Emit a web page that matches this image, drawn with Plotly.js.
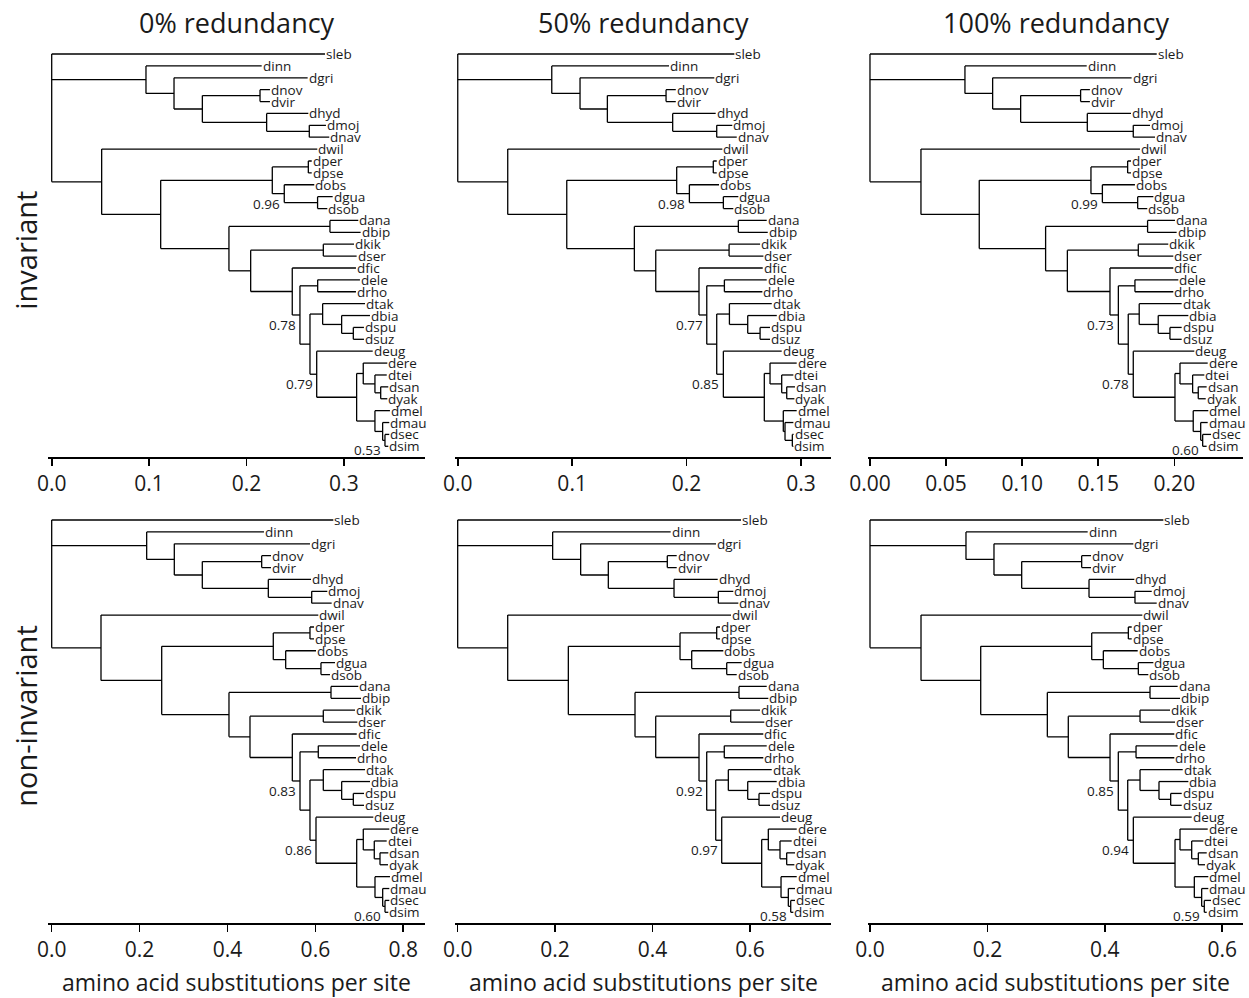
<!DOCTYPE html>
<html>
<head>
<meta charset="utf-8">
<script src="https://cdn.plot.ly/plotly-3.0.1.min.js"></script>
<style>html,body{margin:0;padding:0;background:#fff}</style>
</head>
<body>
<div id="chart" style="width:1249px;height:998px"></div>
<script>
// ---------- DATA ----------
const columnTitles = ["0% redundancy", "50% redundancy", "100% redundancy"];
const rowTitles = ["invariant", "non-invariant"];
const xAxisTitle = "amino acid substitutions per site";

const leaves = ["sleb","dinn","dgri","dnov","dvir","dhyd","dmoj","dnav","dwil","dper","dpse","dobs","dgua","dsob",
  "dana","dbip","dkik","dser","dfic","dele","drho","dtak","dbia","dspu","dsuz","deug","dere","dtei","dsan","dyak",
  "dmel","dmau","dsec","dsim"];

// topology (internal clades named)
const newick = "(sleb,(dinn,(dgri,((dnov,dvir)NV,(dhyd,(dmoj,dnav)MN)HMN)A3)A2)A,(dwil,(((dper,dpse)PP,(dobs,(dgua,dsob)GS)OBS)B3,((dana,dbip)AB,((dkik,dser)KS,(dfic,((dele,drho)ER,((dtak,(dbia,(dspu,dsuz)SS)BSS)B9,(deug,((dere,(dtei,(dsan,dyak)SY)TSY)B12,(dmel,(dmau,(dsec,dsim)SS2)MSS)B13)B11)B10)B8)B7)B6)B5)B4)B2)B)root";

const nodeNames = ["root","A","A2","A3","NV","HMN","MN","B","B2","B3","PP","OBS","GS","B4","AB","B5","KS","B6","B7","ER",
  "B8","B9","BSS","SS","B10","B11","B12","TSY","SY","B13","MSS","SS2"];

// depth (substitutions per site from root) of internal nodes, per panel
const nodeX_inv0 = [0,0.0968,0.1256,0.1547,0.2139,0.2207,0.2645,0.0513,0.1119,0.2265,0.2635,0.2388,0.2730,0.1820,0.2857,0.2043,0.2789,0.2470,0.2549,0.2731,
  0.2652,0.2782,0.2977,0.3097,0.2721,0.3131,0.3199,0.3319,0.3378,0.3319,0.3398,0.3422];
const nodeX_inv50 = [0,0.0822,0.1069,0.1308,0.1821,0.1879,0.2264,0.0437,0.0953,0.1914,0.2234,0.2025,0.2322,0.1544,0.2453,0.1731,0.2372,0.2109,0.2177,0.2331,
  0.2264,0.2375,0.2535,0.2643,0.2322,0.2680,0.2730,0.2832,0.2876,0.2846,0.2861,0.2925];
const nodeX_inv100 = [0,0.0624,0.0806,0.0990,0.1384,0.1428,0.1730,0.0335,0.0718,0.1452,0.1693,0.1527,0.1759,0.1154,0.1824,0.1297,0.1763,0.1577,0.1632,0.1741,
  0.1697,0.1769,0.1894,0.1971,0.1730,0.2004,0.2037,0.2120,0.2157,0.2124,0.2173,0.2186];
const nodeX_non0 = [0,0.2161,0.2790,0.3427,0.4778,0.4929,0.5916,0.1122,0.2503,0.5042,0.5877,0.5324,0.6127,0.4034,0.6355,0.4512,0.6180,0.5475,0.5650,0.6066,
  0.5877,0.6180,0.6598,0.6863,0.6014,0.6940,0.7090,0.7340,0.7470,0.7356,0.7531,0.7584];
const nodeX_non50 = [0,0.1950,0.2525,0.3093,0.4304,0.4442,0.5352,0.1027,0.2272,0.4565,0.5318,0.4805,0.5524,0.3641,0.5776,0.4066,0.5606,0.4955,0.5113,0.5474,
  0.5298,0.5557,0.5955,0.6187,0.5421,0.6242,0.6378,0.6618,0.6755,0.6639,0.6789,0.6838];
const nodeX_non100 = [0,0.1635,0.2112,0.2584,0.3606,0.3731,0.4514,0.0869,0.1886,0.3777,0.4401,0.3975,0.4571,0.3021,0.4770,0.3378,0.4600,0.4089,0.4230,0.4532,
  0.4390,0.4600,0.4923,0.5122,0.4486,0.5196,0.5281,0.5480,0.5593,0.5525,0.5650,0.5695];

// depth of leaves, per panel (same order as `leaves`)
const leafX_inv0 = [0.2806,0.2156,0.2628,0.2241,0.2241,0.2635,0.2816,0.2850,0.2727,0.2670,0.2670,0.2696,0.2885,0.2830,
  0.3148,0.3172,0.3104,0.3131,0.3124,0.3165,0.3124,0.3217,0.3268,0.3206,0.3206,0.3296,0.3446,0.3440,0.3456,0.3446,
  0.3473,0.3466,0.3466,0.3456];
const leafX_inv50 = [0.2418,0.1847,0.2243,0.1906,0.1906,0.2255,0.2400,0.2439,0.2313,0.2264,0.2264,0.2284,0.2453,0.2409,
  0.2701,0.2710,0.2643,0.2672,0.2666,0.2701,0.2663,0.2745,0.2789,0.2730,0.2730,0.2832,0.2963,0.2934,0.2948,0.2943,
  0.2963,0.2934,0.2936,0.2934];
const leafX_inv100 = [0.1884,0.1424,0.1719,0.1445,0.1445,0.1715,0.1840,0.1873,0.1774,0.1715,0.1715,0.1741,0.1862,0.1822,
  0.2004,0.2015,0.1960,0.1993,0.1993,0.2026,0.1993,0.2048,0.2092,0.2048,0.2048,0.2131,0.2219,0.2197,0.2212,0.2206,
  0.2223,0.2219,0.2241,0.2212];
const leafX_non0 = [0.6408,0.4830,0.5877,0.4990,0.4990,0.5900,0.6271,0.6370,0.6066,0.5968,0.5968,0.6014,0.6446,0.6332,
  0.6976,0.7038,0.6901,0.6954,0.6940,0.7015,0.6924,0.7129,0.7243,0.7106,0.7106,0.7318,0.7682,0.7622,0.7659,0.7652,
  0.7697,0.7682,0.7682,0.7659];
const leafX_non50 = [0.5817,0.4373,0.5304,0.4497,0.4497,0.5339,0.5659,0.5762,0.5612,0.5386,0.5386,0.5454,0.5832,0.5729,
  0.6345,0.6378,0.6207,0.6296,0.6275,0.6345,0.6275,0.6448,0.6550,0.6413,0.6413,0.6618,0.6961,0.6858,0.6926,0.6913,
  0.6961,0.6926,0.6926,0.6892];
const leafX_non100 = [0.4997,0.3708,0.4486,0.3765,0.3765,0.4503,0.4799,0.4884,0.4639,0.4458,0.4458,0.4560,0.4827,0.4741,
  0.5241,0.5281,0.5111,0.5196,0.5184,0.5241,0.5184,0.5327,0.5423,0.5310,0.5310,0.5480,0.5753,0.5678,0.5736,0.5707,
  0.5763,0.5763,0.5809,0.5736];

// branch support labels: clade names and values per panel
const support_inv0_nodes = ["OBS","B7","B10","SS2"];   const support_inv0 = ["0.96","0.78","0.79","0.53"];
const support_inv50_nodes = ["OBS","B7","B10"];        const support_inv50 = ["0.98","0.77","0.85"];
const support_inv100_nodes = ["OBS","B7","B10","SS2"]; const support_inv100 = ["0.99","0.73","0.78","0.60"];
const support_non0_nodes = ["B7","B10","SS2"];         const support_non0 = ["0.83","0.86","0.60"];
const support_non50_nodes = ["B7","B10","SS2"];        const support_non50 = ["0.92","0.97","0.58"];
const support_non100_nodes = ["B7","B10","SS2"];       const support_non100 = ["0.85","0.94","0.59"];

// axis ticks per panel
const tickStep = [0.1, 0.1, 0.05, 0.2, 0.2, 0.2];
const tickFormat = [".1f", ".1f", ".2f", ".1f", ".1f", ".1f"];

// ---------- LAYOUT / DRAWING ----------
const W = 1249, H = 998;
const panels = [
  {nodeX: nodeX_inv0, leafX: leafX_inv0, sn: support_inv0_nodes, sv: support_inv0, range: [-0.0038, 0.3833]},
  {nodeX: nodeX_inv50, leafX: leafX_inv50, sn: support_inv50_nodes, sv: support_inv50, range: [-0.0024, 0.3263]},
  {nodeX: nodeX_inv100, leafX: leafX_inv100, sn: support_inv100_nodes, sv: support_inv100, range: [-0.0013, 0.2451]},
  {nodeX: nodeX_non0, leafX: leafX_non0, sn: support_non0_nodes, sv: support_non0, range: [-0.0084, 0.8494]},
  {nodeX: nodeX_non50, leafX: leafX_non50, sn: support_non50_nodes, sv: support_non50, range: [-0.0055, 0.7665]},
  {nodeX: nodeX_non100, leafX: leafX_non100, sn: support_non100_nodes, sv: support_non100, range: [-0.0034, 0.6354]}
];
const colPx = [[48, 425], [455, 831], [868, 1243]];
const rowPx = [[44.5, 457], [510.5, 923]];
const FONT = "Open Sans, Noto Sans, sans-serif";
const TXT = "#1a1a1a";

function parseNewick(s) {
  let pos = 0;
  function parse() {
    const node = {children: []};
    if (s[pos] === '(') {
      pos++;
      node.children.push(parse());
      while (s[pos] === ',') { pos++; node.children.push(parse()); }
      pos++;
    }
    let name = '';
    while (pos < s.length && !',()'.includes(s[pos])) name += s[pos++];
    node.name = name;
    return node;
  }
  return parse();
}
const tree = parseNewick(newick);

const traces = [];
const annotations = [];
const layout = {
  width: W, height: H,
  margin: {l: 0, r: 0, t: 0, b: 0},
  paper_bgcolor: "#fff", plot_bgcolor: "#fff",
  showlegend: false,
  font: {family: FONT, color: TXT},
  annotations: annotations
};

panels.forEach((p, i) => {
  const col = i % 3, row = Math.floor(i / 3);
  const sfx = i === 0 ? "" : String(i + 1);
  const xa = "x" + sfx, ya = "y" + sfx;
  const xs = [], ys = [];
  const pos = {};
  function walk(node, parentX) {
    let x, y;
    if (node.children.length === 0) {
      const idx = leaves.indexOf(node.name);
      x = p.leafX[idx]; y = idx;
      annotations.push({xref: xa, yref: ya, x: x, y: y, text: node.name, showarrow: false,
        xanchor: "left", yanchor: "middle", xshift: 0, borderpad: 0,
        font: {size: 13.5, family: FONT, color: TXT}});
    } else {
      x = p.nodeX[nodeNames.indexOf(node.name)];
      const cy = node.children.map(c => walk(c, x));
      y = (cy[0] + cy[cy.length - 1]) / 2;
      xs.push(x, x, null); ys.push(cy[0], cy[cy.length - 1], null);
    }
    if (parentX !== null) { xs.push(parentX, x, null); ys.push(y, y, null); }
    pos[node.name] = {x: x, y: y};
    return y;
  }
  walk(tree, null);
  traces.push({type: "scatter", mode: "lines", x: xs, y: ys, xaxis: xa, yaxis: ya,
    line: {color: "#000", width: 1.3}, hoverinfo: "skip", cliponaxis: false});
  p.sn.forEach((n, k) => {
    annotations.push({xref: xa, yref: ya, x: pos[n].x, y: pos[n].y, text: p.sv[k], showarrow: false,
      xanchor: "right", yanchor: "top", xshift: -3, yshift: 0, borderpad: 0,
      font: {size: 13.5, family: FONT, color: TXT}});
  });
  layout["xaxis" + sfx] = {
    domain: [colPx[col][0] / W, colPx[col][1] / W], anchor: ya, range: p.range,
    showgrid: false, zeroline: false, showline: true, linecolor: "#000", linewidth: 1.6,
    ticks: "outside", ticklen: 7, tickwidth: 1.6, tickcolor: "#000",
    dtick: tickStep[i], tick0: 0, tickformat: tickFormat[i],
    tickfont: {size: 21, family: FONT, color: TXT}, fixedrange: true
  };
  layout["yaxis" + sfx] = {
    domain: [1 - rowPx[row][1] / H, 1 - rowPx[row][0] / H], anchor: xa, range: [33.9, -0.8],
    showgrid: false, zeroline: false, showline: false, showticklabels: false, ticks: "", fixedrange: true
  };
});

columnTitles.forEach((t, c) => {
  annotations.push({xref: "paper", yref: "paper", x: (colPx[c][0] + colPx[c][1]) / 2 / W, y: 1 - 22 / H,
    text: t, showarrow: false, xanchor: "center", yanchor: "middle", font: {size: 27, family: FONT, color: TXT}});
  annotations.push({xref: "paper", yref: "paper", x: (colPx[c][0] + colPx[c][1]) / 2 / W, y: 1 - 982 / H,
    text: xAxisTitle, showarrow: false, xanchor: "center", yanchor: "middle", font: {size: 23, family: FONT, color: TXT}});
});
rowTitles.forEach((t, r) => {
  annotations.push({xref: "paper", yref: "paper", x: 26 / W, y: 1 - (rowPx[r][0] + rowPx[r][1]) / 2 / H,
    text: t, showarrow: false, textangle: -90, xanchor: "center", yanchor: "middle", font: {size: 29, family: FONT, color: TXT}});
});

Plotly.newPlot("chart", traces, layout, {displayModeBar: false, staticPlot: true});
</script>
</body>
</html>
